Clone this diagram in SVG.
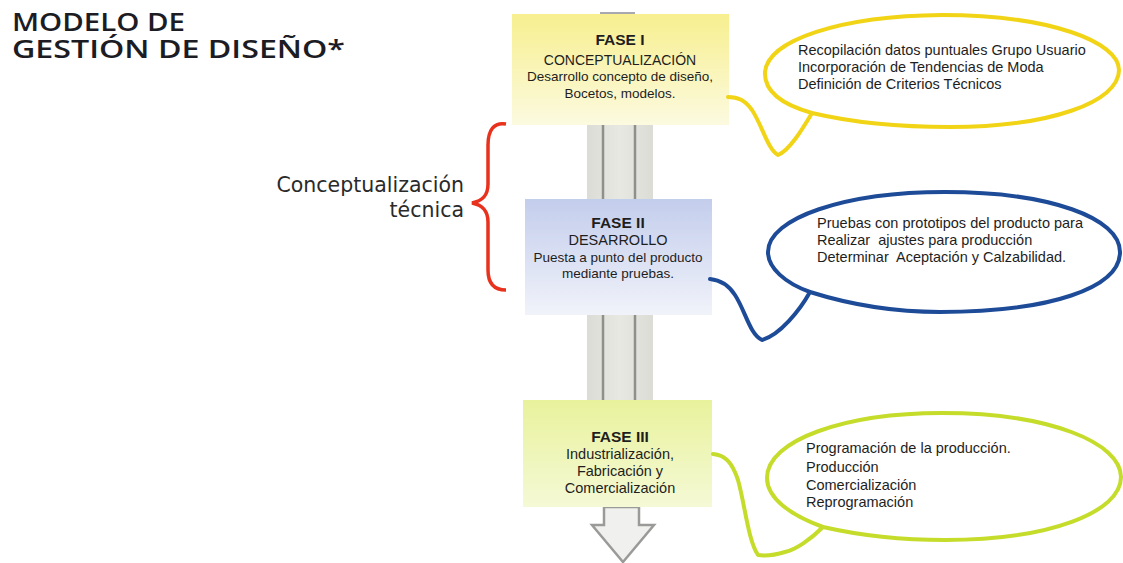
<svg xmlns="http://www.w3.org/2000/svg" width="1123" height="563" viewBox="0 0 1123 563">
<defs>
<linearGradient id="gY" x1="0" y1="0" x2="0" y2="1"><stop offset="0" stop-color="#f7ef8f"/><stop offset="1" stop-color="#fcfae0"/></linearGradient>
<linearGradient id="gB" x1="0" y1="0" x2="0" y2="1"><stop offset="0" stop-color="#c3cdec"/><stop offset="1" stop-color="#f1f3fa"/></linearGradient>
<linearGradient id="gG" x1="0" y1="0" x2="0" y2="1"><stop offset="0" stop-color="#e8f29c"/><stop offset="1" stop-color="#f5f9d6"/></linearGradient>
<linearGradient id="gC" x1="0" y1="0" x2="1" y2="0"><stop offset="0" stop-color="#dcdcd6"/><stop offset="0.5" stop-color="#e8e8e2"/><stop offset="1" stop-color="#dcdcd6"/></linearGradient>
</defs>
<style>
.t{font-family:"Liberation Sans",Arial,sans-serif;fill:#1e1e1e;white-space:pre}
.c{text-anchor:middle}
.b{font-weight:bold}
.bub{fill:none;stroke-width:4;stroke-linecap:round;stroke-linejoin:round}
.col{fill:url(#gC)}
.ln{stroke:#8f8f8d;stroke-width:2.5}
.h{font-family:"Open Sans",sans-serif;font-weight:600;font-size:25px;fill:#1c1c24}
</style>
<rect width="1123" height="563" fill="#ffffff"/>

<g id="title">
<text class="h" x="12" y="31" textLength="173" lengthAdjust="spacingAndGlyphs">MODELO DE</text>
<text class="h" x="12" y="58" textLength="333" lengthAdjust="spacingAndGlyphs">GESTIÓN DE DISEÑO*</text>
</g>

<g id="connectors">
<rect x="600" y="12" width="35" height="3" fill="#a8a8b0"/>
<rect class="col" x="587" y="124" width="66" height="76"/>
<line class="ln" x1="603" y1="124" x2="603" y2="200"/>
<line class="ln" x1="635" y1="124" x2="635" y2="200"/>
<rect class="col" x="587" y="315" width="66" height="86"/>
<line class="ln" x1="603" y1="315" x2="603" y2="401"/>
<line class="ln" x1="635" y1="315" x2="635" y2="401"/>
<path d="M604,507 L604,525 L592,525 L623,562 L654,525 L639,525 L639,507 Z" fill="#f0f0ee" stroke="#9a9a98" stroke-width="2.5" stroke-linejoin="miter"/>
</g>

<g id="fase1">
<rect x="512" y="14" width="217" height="111" fill="url(#gY)"/>
<text class="t c b" x="620" y="45" font-size="15.5">FASE I</text>
<text class="t c" x="620" y="65" font-size="14">CONCEPTUALIZACIÓN</text>
<text class="t c" x="620" y="81" font-size="13.5">Desarrollo concepto de diseño,</text>
<text class="t c" x="620" y="98" font-size="13.5">Bocetos, modelos.</text>
</g>

<g id="fase2">
<rect x="525" y="199" width="187" height="116" fill="url(#gB)"/>
<text class="t c b" x="618" y="228" font-size="15.5">FASE II</text>
<text class="t c" x="618" y="245" font-size="14.5">DESARROLLO</text>
<text class="t c" x="618" y="262" font-size="13.5">Puesta a punto del producto</text>
<text class="t c" x="618" y="278" font-size="13.5">mediante pruebas.</text>
</g>

<g id="fase3">
<rect x="523" y="400" width="189" height="107" fill="url(#gG)"/>
<text class="t c b" x="620" y="442" font-size="15.5">FASE III</text>
<text class="t c" x="620" y="459" font-size="14.5">Industrialización,</text>
<text class="t c" x="620" y="476" font-size="14.5">Fabricación y</text>
<text class="t c" x="620" y="493" font-size="14.5">Comercialización</text>
</g>

<g id="brace">
<path d="M506,124 C494,122 488,130 488,145 L488,184 C488,196 482,201 472,203 C482,205 488,210 488,222 L488,270 C488,283 494,290 506,290" fill="none" stroke="#e8321e" stroke-width="3.5"/>
<text x="464" y="192" text-anchor="end" font-family="'DejaVu Sans',Verdana,sans-serif" font-size="20.5" fill="#2a2a2a">Conceptualización</text>
<text x="464" y="217" text-anchor="end" font-family="'DejaVu Sans',Verdana,sans-serif" font-size="20.5" fill="#2a2a2a">técnica</text>
</g>

<g id="bubble1">
<path class="bub" stroke="#f2d416" d="M812,113 C780,104 764,90 765,72 C768,40 840,16 942,15 C1050,15 1119,42 1119,70 C1119,102 1050,127 950,127 C900,127 850,122 812,113 C803,128 790,150 778,155 C768,150 762,125 752,110 C745,100 738,97 728,97"/>
<text class="t" x="798" y="55" font-size="14.5">Recopilación datos puntuales Grupo Usuario</text>
<text class="t" x="798" y="72" font-size="14.5">Incorporación de Tendencias de Moda</text>
<text class="t" x="798" y="89" font-size="14.5">Definición de Criterios Técnicos</text>
</g>

<g id="bubble2">
<path class="bub" stroke="#1d4b97" d="M810,292 C785,283 768,268 768,252 C768,218 845,192 945,192 C1050,192 1120,218 1120,252 C1120,288 1050,312 940,312 C890,312 845,303 810,292 C800,310 780,335 762,340 C750,335 745,310 735,295 C728,284 720,280 710,279"/>
<text class="t" x="817" y="228" font-size="14.5">Pruebas con prototipos del producto para</text>
<text class="t" x="817" y="245" font-size="14.5">Realizar  ajustes para producción</text>
<text class="t" x="817" y="262" font-size="14.5">Determinar  Aceptación y Calzabilidad.</text>
</g>

<g id="bubble3">
<path class="bub" stroke="#c5dc2a" d="M823,527 C790,515 767,498 767,478 C767,440 845,413 942,413 C1050,413 1121,443 1121,477 C1121,512 1050,540 945,540 C900,540 858,535 823,527 C810,540 795,550 785,552 C775,555 765,556 758,555 C748,540 745,505 738,480 C732,462 725,455 713,454"/>
<text class="t" x="806" y="453" font-size="14.5">Programación de la producción.</text>
<text class="t" x="806" y="472" font-size="14.5">Producción</text>
<text class="t" x="806" y="490" font-size="14.5">Comercialización</text>
<text class="t" x="806" y="507" font-size="14.5">Reprogramación</text>
</g>
</svg>
